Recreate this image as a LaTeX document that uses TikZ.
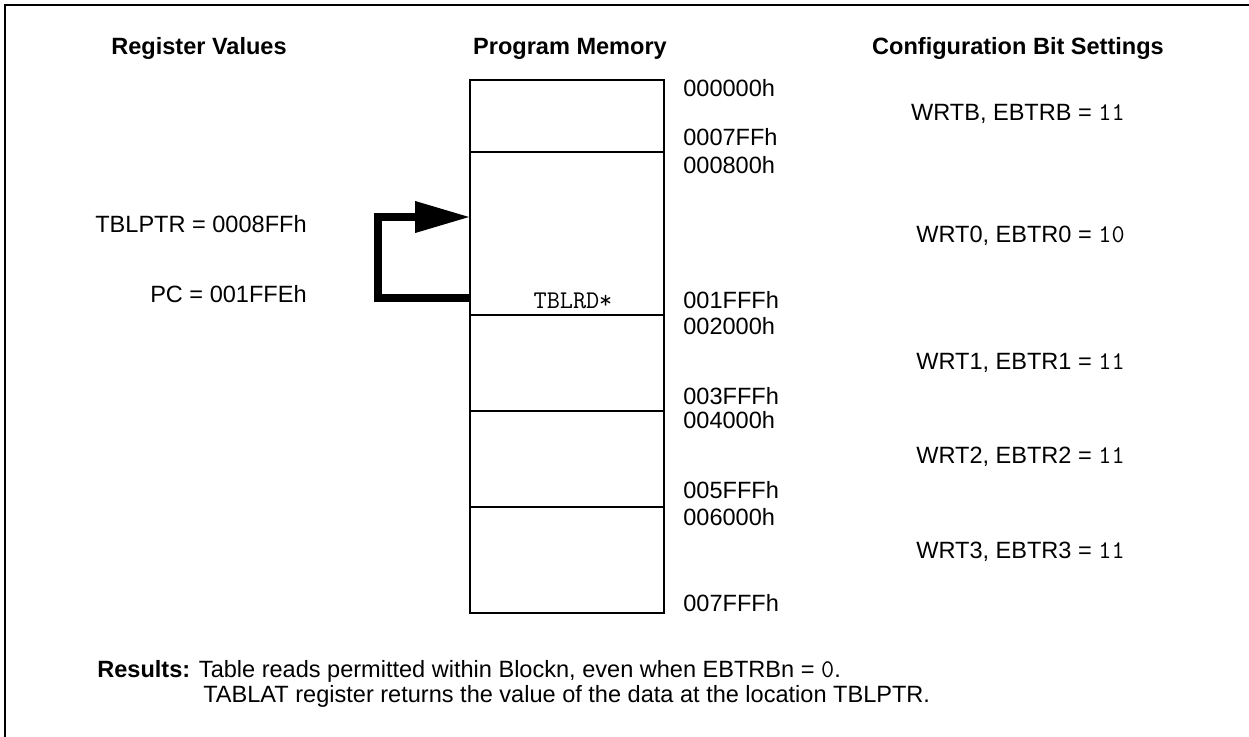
\documentclass[tikz,border=0pt]{standalone}
\usepackage{fontspec}
\setmainfont{Liberation Sans}
\usetikzlibrary{arrows.meta,positioning}

\newcommand{\bitval}[1]{{\fontsize{14.5}{16}\selectfont\ttfamily #1}}

\tikzset{
  txt/.style={inner sep=0pt, font=\fontsize{13.4}{16}\selectfont},
  heading/.style={txt, anchor=base, font=\fontsize{13.4}{16}\selectfont\bfseries},
  addr/.style={txt, anchor=base west},
  regval/.style={txt, anchor=base east},
  cfgval/.style={txt, anchor=base east},
  code/.style={txt, anchor=base, font=\fontsize{14.5}{16}\selectfont\ttfamily},
  memline/.style={line width=1.1pt},
  jump/.style={line width=4pt, line join=miter, -{Triangle[length=1.1cm,width=0.6cm]}},
}

\begin{document}
\begin{tikzpicture}[x=0.02cm, y=-0.02cm]
    \useasboundingbox (0,0) rectangle (1249,737);
    \draw[memline] (5,760) -- (5,5) -- (1270,5);

    % column headings
    \node[heading] (hreg) at (199,54) {Register Values};
    \node[heading] (hmem) at (570,54) {Program Memory};
    \node[heading] (hcfg) at (1018,54) {Configuration Bit Settings};

    % memory blocks
    \foreach \a/\b in {80/152, 152/315, 315/411, 411/507, 507/613}
        \draw[memline] (470,\a) rectangle (664,\b);

    % addresses
    \foreach \y/\t in {96/000000h, 145/0007FFh, 173/000800h, 308/001FFFh,
                       334/002000h, 404/003FFFh, 428/004000h, 498/005FFFh,
                       525/006000h, 611/007FFFh}
        \node[addr] (a\y) at (683,\y) {\t};

    % register values
    \node[regval] (tblptr) at (307,232) {TBLPTR = 0008FFh};
    \node[regval] (pc) at (307,302) {PC = 001FFEh};
    \node[code] (rdop) at (573,308) {TBLRD*};

    \coordinate (rd) at (470,298);
    \coordinate (ptr) at (470,217);
    \draw[jump] (rd) -- (378,298) |- (ptr);

    % configuration bits
    \node[cfgval] (cfgb) at (1125,120) {WRTB, EBTRB = \bitval{11}};
    \node[cfgval] (cfg0) at (1125,242) {WRT0, EBTR0 = \bitval{10}};
    \node[cfgval] (cfg1) at (1125,369) {WRT1, EBTR1 = \bitval{11}};
    \node[cfgval] (cfg2) at (1125,463) {WRT2, EBTR2 = \bitval{11}};
    \node[cfgval] (cfg3) at (1125,558) {WRT3, EBTR3 = \bitval{11}};

    % results
    \node[addr] (res1) at (97,677) {\textbf{Results:} Table reads permitted within Blockn, even when EBTRBn = \bitval{0}.};
    \node[addr] (res2) at (203,702) {TABLAT register returns the value of the data at the location TBLPTR.};
\end{tikzpicture}
\end{document}
